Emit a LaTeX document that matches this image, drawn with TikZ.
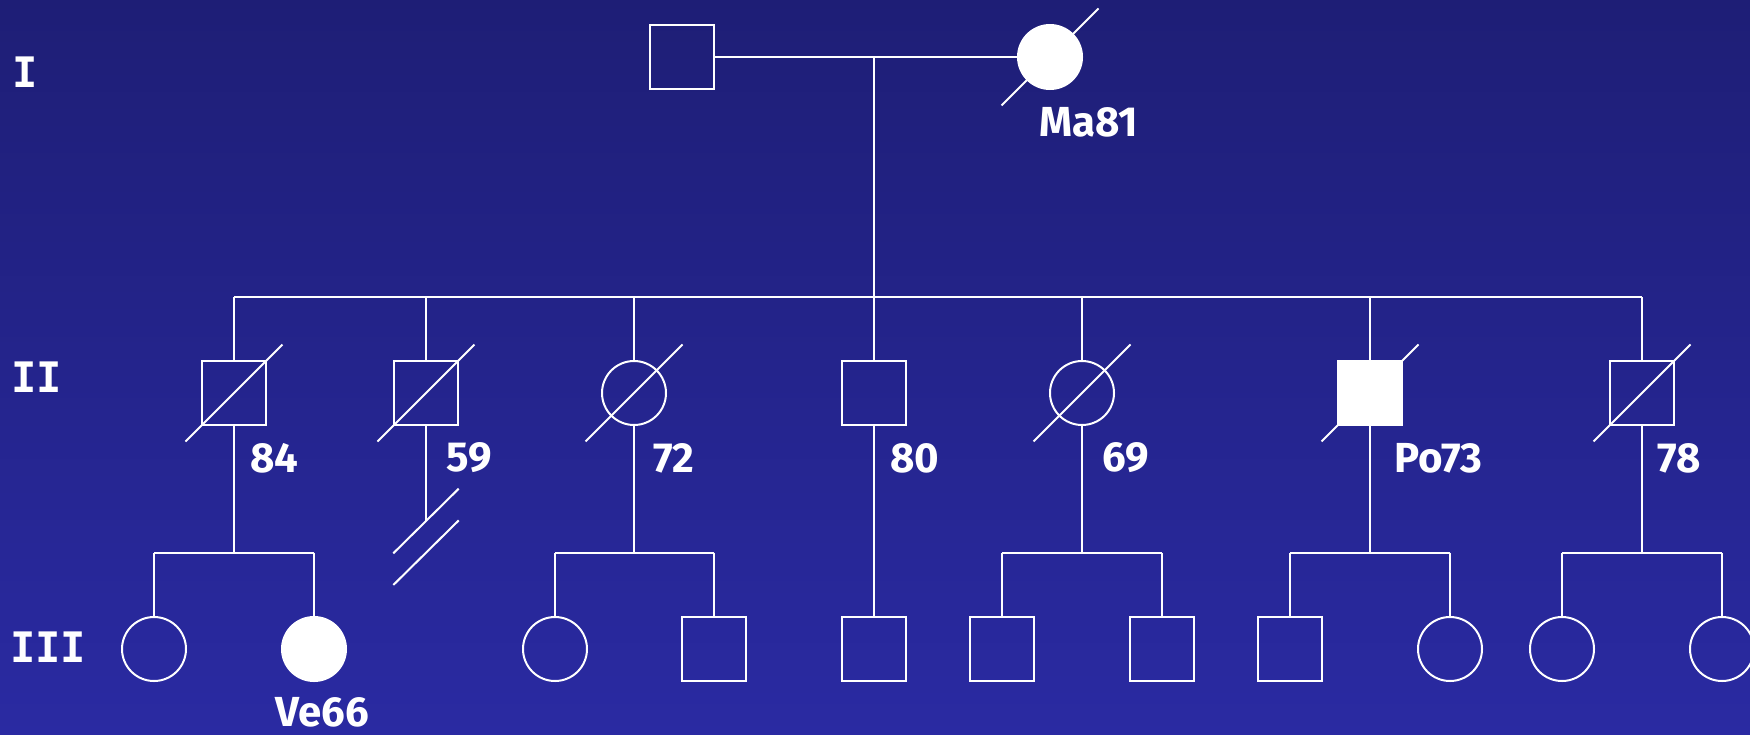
\documentclass[tikz,border=0pt]{standalone}
\usepackage{fontspec}
\setmainfont{Fira Sans}
\newfontfamily\genfont{DejaVu Sans Mono}
\definecolor{bgtop}{RGB}{30,30,118}
\definecolor{bgbot}{RGB}{42,42,162}
% slash through a deceased individual
\newcommand\deadmark[1]{\draw[rel] ([shift={(-48.5,48.5)}]#1.center) -- ([shift={(48.5,-48.5)}]#1.center);}
\begin{document}
\begin{tikzpicture}[x=1pt,y=-1pt,
  rel/.style={draw=white, line width=2pt},
  person/.style={rel, minimum size=64pt, inner sep=0pt, outer sep=0pt},
  male/.style={person, rectangle},
  female/.style={person, circle},
  affected/.style={fill=white},
  lbl/.style={text=white, font=\bfseries\fontsize{42}{48}\selectfont, inner sep=0pt},
  gen/.style={text=white, font=\genfont\bfseries\fontsize{42}{48}\selectfont, inner sep=0pt}]

\shade[top color=bgtop, bottom color=bgbot] (0,0) rectangle (1750,734);
\useasboundingbox (0,0) rectangle (1750,734);

% generation labels
\node[gen] (gI)   at (25,72.5)  {I};
\node[gen] (gII)  at (37,377)   {II};
\node[gen] (gIII) at (48,647.5) {III};

% generation I
\node[male] (m1) at (682,57) {};
\node[female, affected] (f1) at (1050,57) {};
\coordinate (mid1) at (874,57);
\coordinate (sib2) at (874,297);

% generation II
\node[male]   (p84) at (234,393)  {};
\node[male]   (p59) at (426,393)  {};
\node[female] (p72) at (634,393)  {};
\node[male]   (p80) at (874,393)  {};
\node[female] (p69) at (1082,393) {};
\node[male, affected] (p73) at (1370,393) {};
\node[male]   (p78) at (1642,393) {};

% generation III
\coordinate (r3) at (0,552.5);
\node[female] (c1)  at (154,649)  {};
\node[female, affected] (c2) at (314,649) {};
\node[female] (c3)  at (555,649)  {};
\node[male]   (c4)  at (714,649)  {};
\node[male]   (c5)  at (874,649)  {};
\node[male]   (c6)  at (1002,649) {};
\node[male]   (c7)  at (1162,649) {};
\node[male]   (c8)  at (1290,649) {};
\node[female] (c9)  at (1450,649) {};
\node[female] (c10) at (1562,649) {};
\node[female] (c11) at (1722,649) {};

% mating line and sibship of generation II
\draw[rel] (m1.east) -- (f1.west);
\draw[rel] (mid1) -- (sib2);
\draw[rel] (p84 |- sib2) -- (p78 |- sib2);
\foreach \p in {p84,p59,p72,p80,p69,p73,p78}
  \draw[rel] (\p |- sib2) -- (\p.north);

% descent to generation III
\foreach \p in {p84,p72,p69,p73,p78}
  \draw[rel] (\p.south) -- (\p |- r3);
\draw[rel] (p80.south) -- (c5.north);
\foreach \a/\b in {c1/c2,c3/c4,c6/c7,c8/c9,c10/c11}{
  \draw[rel] (\a |- r3) -- (\b |- r3);
  \draw[rel] (\a |- r3) -- (\a.north);
  \draw[rel] (\b |- r3) -- (\b.north);
}

% no offspring below 59
\coordinate (n59a) at (426,521);
\coordinate (n59b) at (426,552.7);
\draw[rel] (p59.south) -- (n59a);
\draw[rel] ([shift={(-32.7,32.3)}]n59a) -- ([shift={(32.7,-32.3)}]n59a);
\draw[rel] ([shift={(-32.7,32.3)}]n59b) -- ([shift={(32.7,-32.3)}]n59b);

% deceased
\deadmark{f1}
\deadmark{p84}
\deadmark{p59}
\deadmark{p72}
\deadmark{p69}
\deadmark{p73}
\deadmark{p78}

% labels
\node[lbl] (tMa) at (1089,122.5) {Ma81};
\node[lbl, anchor=west] (t84) at (250,458)  {84};
\node[lbl, anchor=west] (t59) at (446,458)  {59};
\node[lbl, anchor=west] (t72) at (653,458)  {72};
\node[lbl, anchor=west] (t80) at (890,458)  {80};
\node[lbl, anchor=west] (t69) at (1102,458) {69};
\node[lbl, anchor=west] (tPo) at (1394,458) {Po73};
\node[lbl, anchor=west] (t78) at (1657,458) {78};
\node[lbl] (tVe) at (322,712) {Ve66};
\end{tikzpicture}
\end{document}
